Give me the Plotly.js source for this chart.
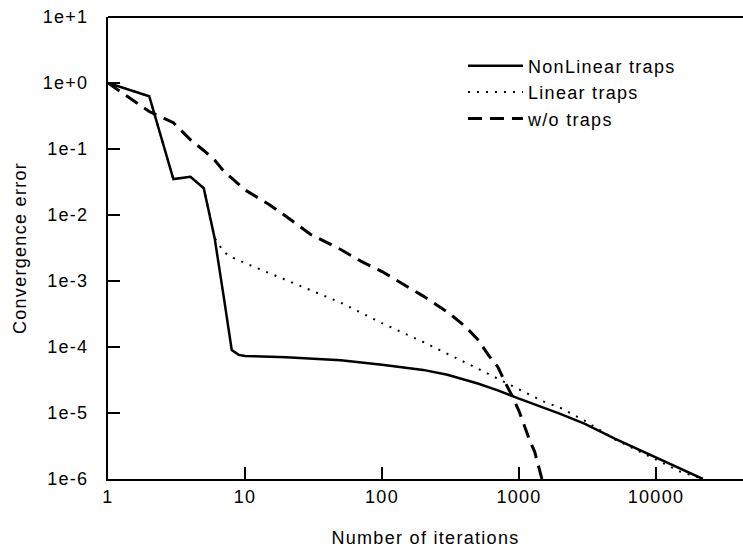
<!DOCTYPE html>
<html>
<head>
<meta charset="utf-8">
<script src="https://cdn.plot.ly/plotly-3.0.1.min.js"></script>
<style>
  html, body { margin: 0; padding: 0; background: #fff; }
  #chart { width: 743px; height: 548px; }
  svg text { letter-spacing: 1.3px; }
</style>
</head>
<body>
<div id="chart"></div>
<script>
// Convergence error versus iteration count for three solver variants.
const nonlinearIter = [1, 2, 3, 4, 5, 6, 7, 8, 9, 10, 20, 50, 100, 200, 300, 400, 500, 700, 1000, 2000, 3000, 5000, 10000, 22000];
const nonlinearErr  = [1, 0.63, 0.035, 0.038, 0.0254, 0.0045, 5.7e-4, 9e-5, 7.6e-5, 7.3e-5, 7.0e-5, 6.3e-5, 5.4e-5, 4.5e-5, 3.8e-5, 3.2e-5, 2.8e-5, 2.2e-5, 1.65e-5, 9.7e-6, 6.9e-6, 4.1e-6, 2.1e-6, 1e-6];

const linearIter = [1, 2, 3, 4, 5, 6, 7, 8, 10, 20, 50, 100, 200, 500, 1000, 1500, 2000, 3000, 5000, 10000, 15000, 22000];
const linearErr  = [1, 0.63, 0.035, 0.038, 0.0254, 0.0045, 2.75e-3, 2.3e-3, 1.87e-3, 1.03e-3, 4.7e-4, 2.3e-4, 1.19e-4, 4.7e-5, 2.3e-5, 1.5e-5, 1.2e-5, 7.7e-6, 4.0e-6, 1.94e-6, 1.3e-6, 1e-6];

const plainIter = [1, 2, 3, 4, 5, 6, 7, 8, 9, 10, 15, 20, 30, 50, 70, 100, 200, 300, 400, 500, 600, 700, 800, 900, 1000, 1100, 1200, 1300, 1400, 1470];
const plainErr  = [1, 0.37, 0.25, 0.138, 0.095, 0.068, 0.046, 0.036, 0.029, 0.024, 0.0144, 0.0095, 0.0051, 0.003, 0.002, 1.39e-3, 5.9e-4, 3.4e-4, 2.1e-4, 1.3e-4, 7.5e-5, 5e-5, 2.8e-5, 1.74e-5, 1.07e-5, 6.2e-6, 3.8e-6, 2.6e-6, 1.5e-6, 1e-6];

const seriesNames = ['NonLinear traps', 'Linear traps', 'w/o traps'];

const xTickVals = [1, 10, 100, 1000, 10000];
const xTickText = ['1', '10', '100', '1000', '10000'];
const yTickVals = [1e-6, 1e-5, 1e-4, 1e-3, 1e-2, 1e-1, 1, 10];
const yTickText = ['1e-6', '1e-5', '1e-4', '1e-3', '1e-2', '1e-1', '1e+0', '1e+1'];

const FONT = 'Liberation Sans, Arial, sans-serif';

const traces = [
  { x: nonlinearIter, y: nonlinearErr, name: seriesNames[0],
    mode: 'lines', line: { color: '#000', width: 2.5 } },
  { x: linearIter, y: linearErr, name: seriesNames[1],
    mode: 'lines', line: { color: '#000', width: 2, dash: '2px,7px' } },
  { x: plainIter, y: plainErr, name: seriesNames[2],
    mode: 'lines', line: { color: '#000', width: 3, dash: '14px,8px' } }
];

const axisCommon = {
  type: 'log',
  showgrid: false,
  zeroline: false,
  showline: true,
  linecolor: '#000',
  linewidth: 2,
  ticks: 'inside',
  ticklen: 12,
  tickwidth: 2,
  tickcolor: '#000',
  tickmode: 'array',
  tickfont: { family: FONT, size: 18, color: '#000' }
};

const layout = {
  width: 743,
  height: 548,
  margin: { l: 108, r: 0, t: 17, b: 69 },
  paper_bgcolor: '#fff',
  plot_bgcolor: '#fff',
  font: { family: FONT, size: 18, color: '#000' },
  showlegend: true,
  legend: {
    x: 0.559, y: 0.934, xanchor: 'left', yanchor: 'top',
    bgcolor: 'rgba(0,0,0,0)',
    font: { family: FONT, size: 18, color: '#000' },
    itemwidth: 55
  },
  xaxis: Object.assign({}, axisCommon, {
    range: [0, 4.635],
    tickvals: xTickVals,
    ticktext: xTickText,
    title: { text: 'Number of iterations', font: { family: FONT, size: 18, color: '#000' }, standoff: 26 }
  }),
  yaxis: Object.assign({}, axisCommon, {
    range: [-6, 1],
    tickvals: yTickVals,
    ticktext: yTickText,
    ticklabelstandoff: 14,
    title: { text: 'Convergence error', font: { family: FONT, size: 18, color: '#000' }, standoff: 11 }
  }),
  shapes: [
    { type: 'line', xref: 'paper', yref: 'paper', x0: 0, x1: 1, y0: 1, y1: 1,
      line: { color: '#000', width: 2 } }
  ]
};

Plotly.newPlot('chart', traces, layout, { displayModeBar: false, staticPlot: true });
</script>
</body>
</html>
